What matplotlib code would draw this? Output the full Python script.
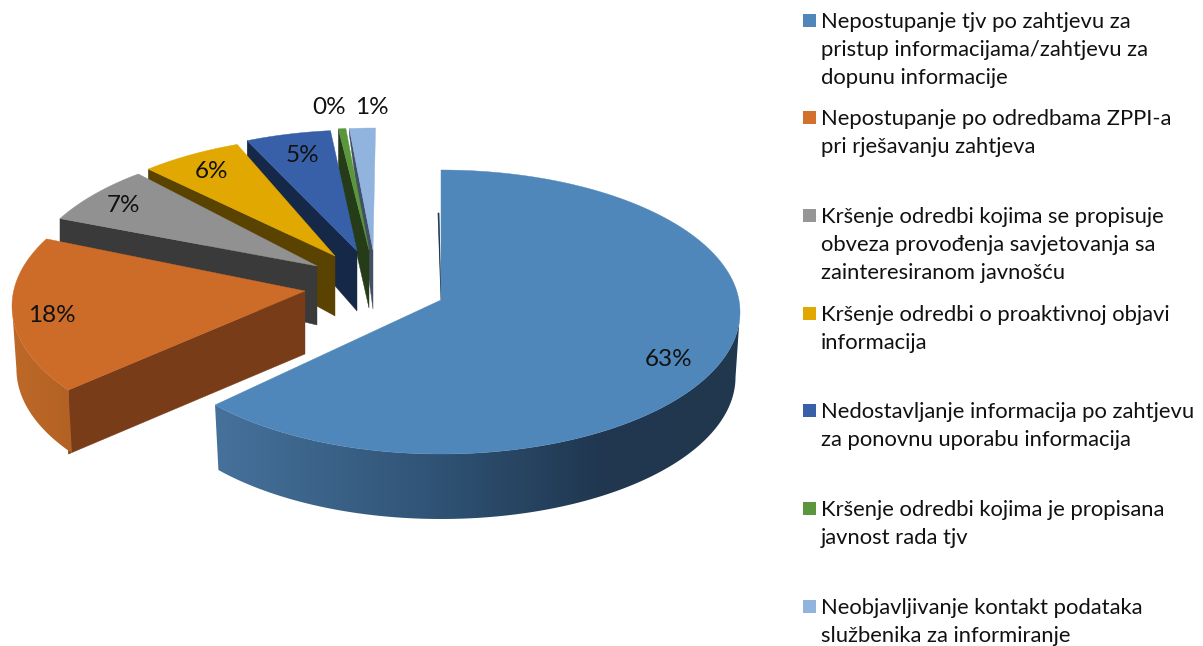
import numpy as np
import matplotlib
matplotlib.use("Agg")
import matplotlib.pyplot as plt
from matplotlib.patches import Polygon, Rectangle

# shares, they round to the printed labels
values = [63.0, 17.6, 6.5, 5.5, 4.6, 0.4, 1.4]
labels = ["63%", "18%", "7%", "6%", "5%", "0%", "1%"]
legend_lines = [
    ["Nepostupanje tjv po zahtjevu za", "pristup informacijama/zahtjevu za", "dopunu informacije"],
    ["Nepostupanje po odredbama ZPPI-a", "pri rješavanju zahtjeva"],
    ["Kršenje odredbi kojima se propisuje", "obveza provođenja savjetovanja sa", "zainteresiranom javnošću"],
    ["Kršenje odredbi o proaktivnoj objavi", "informacija"],
    ["Nedostavljanje informacija po zahtjevu", "za ponovnu uporabu informacija"],
    ["Kršenje odredbi kojima je propisana", "javnost rada tjv"],
    ["Neobjavljivanje kontakt podataka", "službenika za informiranje"],
]

# colours
top_colors = ["#4F87BA", "#CD6B28", "#919191", "#E0A800", "#3860A8", "#5A963C", "#91B4DE"]
cut_colors = ["#20374E", "#783C19", "#3A3A3A", "#5A4200", "#162848", "#263C19", "#415064"]
legend_colors = ["#4F87BA", "#D2702C", "#969696", "#E0A800", "#3860A8", "#5A963C", "#91B4DE"]

# layout of the exploded slices, in pixels of the 1203x646 picture
apex_x = [441, 305, 317, 335, 357, 369, 373]
apex_y = [300, 291, 266, 256, 251, 250, 250]
centre_x = [441, 307, 319, 337, 359, 371, 375]
centre_y = [312, 306, 287, 279, 273, 271, 271]
skew = [0, 4.9, 5.5, 3.5, 1.0, 0.2, 0.1]   # perspective shift of each slice, degrees
depth = [65, 63, 59, 60, 60, 58, 59]
corner_depth = [65, 64, 45, 45, 45, 44, 6]
radius_x = [299, 295, 295, 295, 295, 295, 295]
radius_y = [142, 143, 143, 143, 143, 143, 143]
label_x = [669, 52, 123, 211, 302, 329, 372]
label_y = [360, 315, 206, 172, 155, 108, 108]
legend_y = [22, 119, 217, 315, 412, 510, 608]
line_step = 28

rim_stops = {
    0: ([218, 430, 600, 740], [(70, 113, 155), (48, 84, 118), (32, 55, 80), (32, 55, 78)]),
    1: ([10, 80], [(190, 105, 40), (178, 96, 36)]),
}

plt.rcParams["font.family"] = ["Lato", "DejaVu Sans"]

def arc(i, t):
    t = np.radians(t)
    return centre_x[i] + radius_x[i] * np.sin(t), centre_y[i] - radius_y[i] * np.cos(t)

def draw_rim(ax, i, t0, t1, z):
    xs, cols = rim_stops[i]
    cols = np.array(cols) / 255.0
    ts = np.linspace(t0, t1, 200)
    x, y = arc(i, ts)
    xb = centre_x[i] + 0.985 * (x - centre_x[i])
    yb = y + depth[i]
    grid = np.linspace(min(x.min(), xb.min()), max(x.max(), xb.max()), 400)
    grad = np.stack([np.interp(grid, xs, cols[:, c]) for c in range(3)], axis=1)[None, :, :]
    im = ax.imshow(grad, extent=(grid[0], grid[-1], yb.max() + 1, y.min() - 1), aspect="auto", zorder=z)
    poly = Polygon(np.c_[np.r_[x, xb[::-1]], np.r_[y, yb[::-1]]], transform=ax.transData,
                   facecolor="none", edgecolor="none")
    ax.add_patch(poly)
    im.set_clip_path(poly)

def plot_pie(ax):
    spans = np.array(values) / sum(values) * 360
    starts = np.concatenate([[0], np.cumsum(spans)[:-1]]) + np.array(skew)
    ends = starts + spans
    z = 1
    for i in reversed(range(len(values))):
        ax_, ay_ = apex_x[i], apex_y[i]
        cx_, cy_ = arc(i, starts[i])
        if i > 0:
            ax.fill([cx_, ax_, ax_, cx_],
                    [cy_, ay_, ay_ + depth[i], cy_ + corner_depth[i]],
                    color=cut_colors[i], lw=0.3, zorder=z)
        else:
            # sliver of the hidden back face next to the top edge
            ax.fill([ax_ - 3, ax_, ax_ - 2], [ay_ - 87, ay_, ay_ - 87], color=cut_colors[i], lw=0.5, zorder=z)
        z += 1
        t0, t1 = max(starts[i], 90), min(ends[i], 270)
        if i in rim_stops and t1 > t0:
            draw_rim(ax, i, t0, t1, z)
            z += 1
        ts = np.linspace(starts[i], ends[i], 200)
        x, y = arc(i, ts)
        ax.fill(np.r_[ax_, x], np.r_[ay_, y], color=top_colors[i], lw=0.3, zorder=z)
        z += 1
    for i, txt in enumerate(labels):
        ax.text(label_x[i], label_y[i], txt, fontsize=17.5, color="#111111", ha="center", va="center", zorder=z)

def plot_legend(ax):
    for i, lines in enumerate(legend_lines):
        ax.add_patch(Rectangle((803, legend_y[i] - 8), 13, 13, color=legend_colors[i], lw=0))
        for j, line in enumerate(lines):
            ax.text(821, legend_y[i] + j * line_step, line, fontsize=15.85, color="#111111",
                    ha="left", va="center")

if __name__ == "__main__":
    fig = plt.figure(figsize=(12.03, 6.46), dpi=100)
    ax = fig.add_axes([0, 0, 1, 1])
    plot_pie(ax)
    plot_legend(ax)
    ax.set_xlim(0, 1203)
    ax.set_ylim(646, 0)
    ax.axis("off")
    fig.savefig("out.png", dpi=100)
